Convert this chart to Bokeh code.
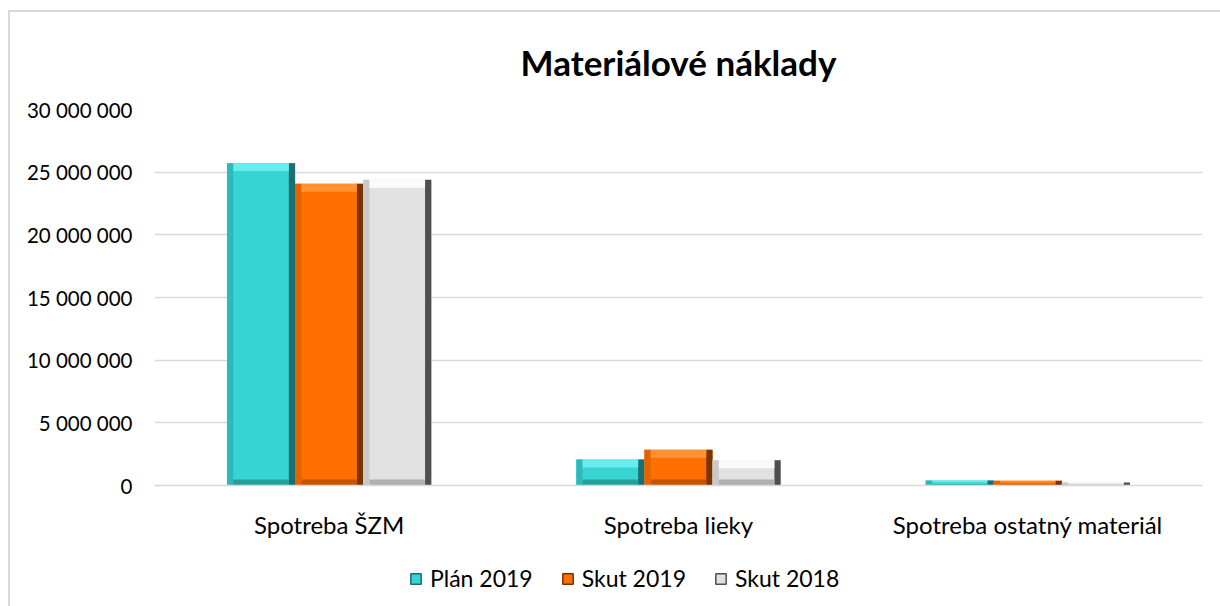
import numpy as np
from bokeh.plotting import figure
from bokeh.layouts import column, row
from bokeh.models import (FactorRange, Range1d, FixedTicker, CustomJSTickFormatter, Legend,
                          LegendItem, ColumnDataSource, Div, Spacer)
from bokeh.transform import dodge
from bokeh.embed import file_html
from bokeh.resources import INLINE

categories = ["Spotreba ŠZM", "Spotreba lieky", "Spotreba ostatný materiál"]
plan_2019 = [25720000, 2070000, 400000]
skut_2019 = [24080000, 2860000, 380000]
skut_2018 = [24400000, 2020000, 240000]
series_names = ["Plán 2019", "Skut 2019", "Skut 2018"]
y_ticks = [0, 5000000, 10000000, 15000000, 20000000, 25000000, 30000000]

colors = ["#38d4d4", "#ff6f00", "#e1e1e1"]
top_colors = ["#66eeee", "#ff9233", "#fbfbfb"]
left_colors = ["#2cb9b9", "#e46200", "#c9c9c9"]
right_colors = ["#1b6f70", "#7a3400", "#4f4f4f"]
bottom_colors = ["#259e9e", "#c45400", "#b0b0b0"]

FONT = "Lato"
YMAX = 30000000

p = figure(x_range=FactorRange(*categories), y_range=Range1d(0, YMAX),
           width=1210, height=543, output_backend="svg", toolbar_location=None,
           min_border_left=144, min_border_right=18, min_border_top=96, min_border_bottom=70)

p.title.text = "Materiálové náklady"
p.title.align = "center"
p.title.text_font = FONT
p.title.text_font_size = "35px"
p.title.text_font_style = "bold"
p.title.text_color = "#000000"
p.title.standoff = 53

p.outline_line_color = None
p.xgrid.grid_line_color = None
p.ygrid.grid_line_color = "#d9d9d9"
p.ygrid.grid_line_width = 1.5

p.yaxis.ticker = FixedTicker(ticks=y_ticks)
p.yaxis.formatter = CustomJSTickFormatter(code="""
return Math.round(tick).toString().replace(/\\B(?=(\\d{3})+(?!\\d))/g, " ");
""")
p.yaxis.axis_line_color = None
p.yaxis.major_tick_line_color = None
p.yaxis.minor_tick_line_color = None
p.yaxis.major_label_standoff = 16
p.yaxis.major_label_text_font = FONT
p.yaxis.major_label_text_font_size = "20.5px"
p.yaxis.major_label_text_color = "#000000"

p.xaxis.axis_line_color = "#d9d9d9"
p.xaxis.axis_line_width = 1.5
p.xaxis.major_tick_line_color = None
p.xaxis.minor_tick_line_color = None
p.xaxis.major_label_standoff = 18
p.xaxis.major_label_text_font = FONT
p.xaxis.major_label_text_font_size = "24px"
p.xaxis.major_label_text_color = "#000000"

w = 0.195
sw = 0.018              # bevel side width (category units)
px_y = YMAX / 377.0     # data units per pixel (approx.)
offsets = [-w, 0.0, w]
series = [plan_2019, skut_2019, skut_2018]

# legend-only figure
pl = figure(width=1210, height=51, output_backend="svg", toolbar_location=None,
            x_range=Range1d(0, 1), y_range=Range1d(0, 1),
            min_border=0, outline_line_color=None)
pl.axis.visible = False
pl.grid.visible = False

items = []
for vals, off, c, tc, lc, rc, bc, name in zip(series, offsets, colors, top_colors,
                                              left_colors, right_colors, bottom_colors, series_names):
    v = np.array(vals, dtype=float)
    bev = np.minimum(8 * px_y, v / 3.0)
    src = ColumnDataSource(dict(cat=categories, top=v, btop=v - bev, bbot=np.minimum(bev * 0.75, v / 3.0)))
    p.vbar(x=dodge("cat", off, range=p.x_range), top="top", width=w, source=src,
           fill_color=c, line_color=None)
    p.vbar(x=dodge("cat", off - w / 2 + sw / 2, range=p.x_range), top="top", width=sw, source=src,
           fill_color=lc, line_color=None)
    p.vbar(x=dodge("cat", off + w / 2 - sw / 2, range=p.x_range), top="top", width=sw, source=src,
           fill_color=rc, line_color=None)
    p.vbar(x=dodge("cat", off, range=p.x_range), top="bbot", bottom=0, width=w - 2 * sw, source=src,
           fill_color=bc, line_color=None)
    p.vbar(x=dodge("cat", off, range=p.x_range), top="top", bottom="btop", width=w - 2 * sw, source=src,
           fill_color=tc, line_color=None)
    # legend proxy (placed outside the visible range of the legend strip)
    lr = pl.rect(x=[-10], y=[-10], width=1, height=1, fill_color=c, line_color=rc, line_width=1.5)
    items.append(LegendItem(label=name, renderers=[lr]))

legend = Legend(items=items, orientation="horizontal", location=(255, 14),
                label_text_font=FONT, label_text_font_size="23px", label_text_color="#000000",
                glyph_width=13, glyph_height=13, label_standoff=8, spacing=28,
                border_line_color=None, background_fill_alpha=0, padding=4, margin=0)
pl.add_layout(legend, "center")

top_line = Div(text="", width=1212, height=2, margin=0, styles={"background-color": "#d9d9d9"})
left_line = Div(text="", width=2, height=594, margin=0, styles={"background-color": "#d9d9d9"})

layout = column(
    Spacer(height=10, margin=0),
    row(Spacer(width=8, margin=0), top_line, margin=0),
    row(Spacer(width=8, margin=0), left_line, column(p, pl, margin=0), margin=0),
    margin=0,
)

open("out.html", "w").write(file_html(layout, INLINE))
